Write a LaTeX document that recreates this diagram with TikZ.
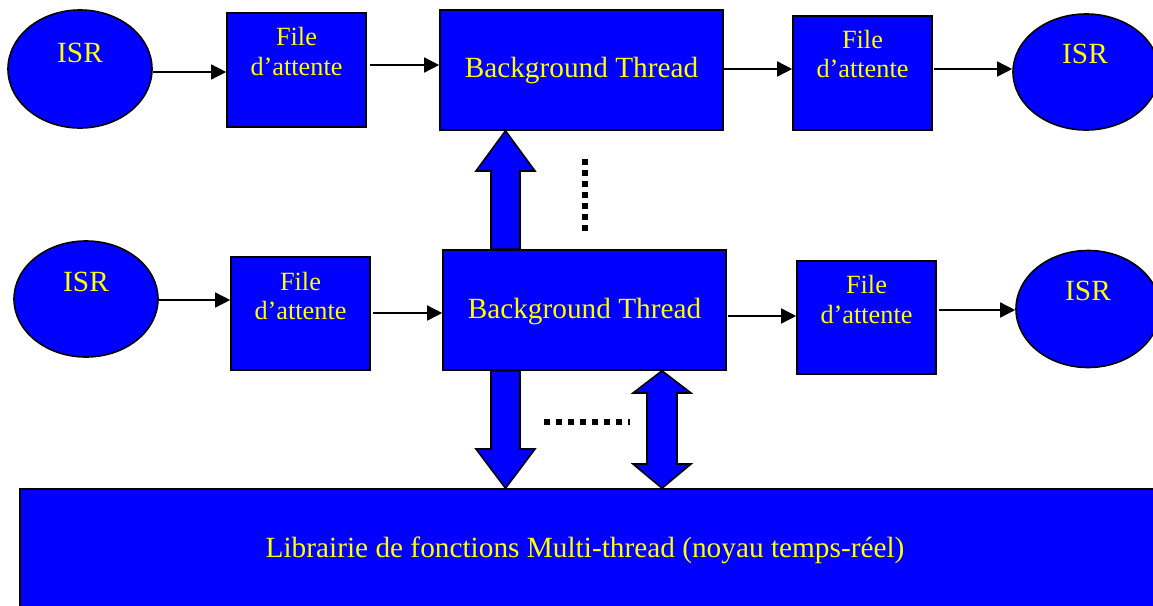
\documentclass[tikz,border=0pt]{standalone}
\usepackage{fontspec}
\setmainfont{Liberation Serif}
\usetikzlibrary{shapes.geometric,arrows.meta}
\definecolor{bblue}{RGB}{0,0,255}
\definecolor{tyellow}{RGB}{255,255,0}
\tikzset{
  shp/.style={draw=black, fill=bblue, line width=1.6pt, inner sep=0pt},
  oval/.style={shp, ellipse},
  box/.style={shp, rectangle},
  txt/.style={text=tyellow, font=\fontsize{29.3}{33}\selectfont, anchor=base, inner sep=0pt},
  qtxt/.style={txt, font=\fontsize{26.3}{30}\selectfont},
  arr/.style={line width=1.5pt, -{Triangle[length=15pt,width=15pt]}},
  blk/.style={draw=black, fill=bblue, line width=1.6pt, line join=miter},
  dots/.style={line width=5.5pt, dash pattern=on 6pt off 6pt},
  vdots/.style={line width=5.5pt, dash pattern=on 5.5pt off 5.5pt}
}
\begin{document}
\begin{tikzpicture}[x=1pt,y=-1pt]
\useasboundingbox (0,0) rectangle (1153,605);
% row 1
\node[oval, minimum width=144pt, minimum height=118pt] (isr1) at (80,69) {};
\node[box, minimum width=139pt, minimum height=114pt] (f1) at (296.5,70) {};
\node[box, minimum width=283pt, minimum height=120pt] (bt1) at (581.5,70) {};
\node[box, minimum width=139pt, minimum height=114pt] (f2) at (862.5,73) {};
\node[oval, minimum width=146pt, minimum height=116pt] (isr2) at (1086,72) {};
% row 2
\node[oval, minimum width=144pt, minimum height=116pt] (isr3) at (86,299) {};
\node[box, minimum width=139pt, minimum height=113pt] (f3) at (300.5,313.5) {};
\node[box, minimum width=283pt, minimum height=120pt] (bt2) at (584.5,310) {};
\node[box, minimum width=139pt, minimum height=113pt] (f4) at (866.5,317.5) {};
\node[oval, minimum width=144pt, minimum height=117pt] (isr4) at (1088,309) {};
% library
\node[box, minimum width=1145pt, minimum height=131pt] (lib) at (592.5,554.5) {};
% texts
\node[txt] (t1) at (80,62) {ISR};
\node[qtxt] (t2a) at (296.5,45) {File};
\node[qtxt] (t2b) at (296.5,75) {d’attente};
\node[txt] (t3) at (581.5,77) {Background Thread};
\node[qtxt] (t4a) at (862.5,48) {File};
\node[qtxt] (t4b) at (862.5,77) {d’attente};
\node[txt] (t5) at (1085,63) {ISR};
\node[txt] (t6) at (86,291) {ISR};
\node[qtxt] (t7a) at (300.5,290) {File};
\node[qtxt] (t7b) at (300.5,319) {d’attente};
\node[txt] (t8) at (584.5,318) {Background Thread};
\node[qtxt] (t9a) at (866.5,293) {File};
\node[qtxt] (t9b) at (866.5,323) {d’attente};
\node[txt] (t10) at (1088,300) {ISR};
\node[txt] (t11) at (585,557) {Librairie de fonctions Multi-thread (noyau temps-réel)};
% thin arrows row 1
\draw[arr] (isr1.east |- 0,72) -- (f1.west |- 0,72);
\draw[arr] ([xshift=3pt]f1.east |- 0,65) -- (bt1.west |- 0,65);
\draw[arr] (bt1.east |- 0,69) -- (f2.west |- 0,69);
\draw[arr] ([xshift=1pt]f2.east |- 0,69) -- (isr2.west |- 0,69);
% thin arrows row 2
\draw[arr] (isr3.east |- 0,300) -- (f3.west |- 0,300);
\draw[arr] ([xshift=2pt]f3.east |- 0,313) -- (bt2.west |- 0,313);
\draw[arr] ([xshift=1pt]bt2.east |- 0,316) -- (f4.west |- 0,316);
\draw[arr] ([xshift=2pt]f4.east |- 0,310) -- (isr4.west |- 0,310);
% block arrow up
\draw[blk] (491,0 |- bt2.north) -- (491,171) -- (476,171) -- (505.5,0 |- bt1.south) -- (535,171) -- (520,171) -- (520,0 |- bt2.north) -- cycle;
% block arrow down
\draw[blk] (491,0 |- bt2.south) -- (491,449) -- (476,449) -- (505.5,0 |- lib.north) -- (535,449) -- (520,449) -- (520,0 |- bt2.south) -- cycle;
% double block arrow
\draw[blk] (662,0 |- bt2.south) -- (691,393) -- (677,393) -- (677,464) -- (691,464) -- (662,0 |- lib.north) -- (633,464) -- (647,464) -- (647,393) -- (633,393) -- cycle;
% dotted lines
\coordinate (dv1) at (585,159);
\coordinate (dv2) at (585,232);
\draw[vdots] (dv1) -- (dv2);
\coordinate (dh1) at (544,422);
\coordinate (dh2) at (630,422);
\draw[dots] (dh1) -- (dh2);
\end{tikzpicture}
\end{document}
